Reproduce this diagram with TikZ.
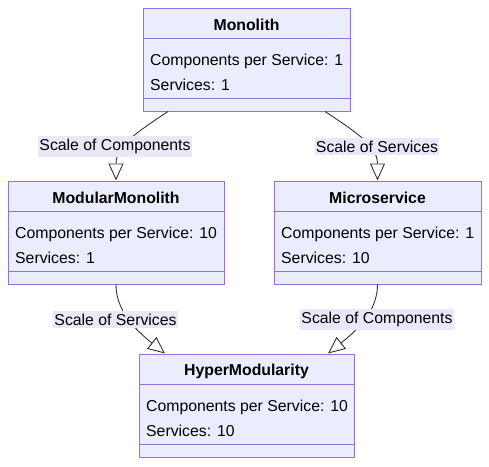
\documentclass[tikz,border=0pt]{standalone}
\usepackage{fontspec}
\setmainfont{Liberation Sans}
\usetikzlibrary{arrows.meta}
\definecolor{classfill}{HTML}{ECECFF}
\definecolor{classline}{HTML}{9370DB}
\definecolor{edgeline}{HTML}{333333}
\definecolor{labelfill}{HTML}{E8E8F8}
\begin{document}
\begin{tikzpicture}[x=1pt, y=-1pt, font=\fontsize{15.8}{18}\selectfont]
    \tikzstyle{class box}=[draw=classline, fill=classfill, line width=1pt, minimum height=103, inner sep=0pt]
    \tikzstyle{class rule}=[draw=classline, line width=1pt]
    \tikzstyle{class title}=[font=\fontsize{15.8}{18}\selectfont\bfseries, inner sep=0pt]
    \tikzstyle{attr}=[anchor=west, inner sep=0pt]
    \tikzstyle{extends}=[draw=edgeline, line width=0.9pt, -{Triangle[length=17pt, width=15pt, fill=white]}]
    \tikzstyle{edge label}=[fill=labelfill, inner xsep=1pt, inner ysep=3pt]

    \useasboundingbox (0,0) rectangle (489,466);

    % Draw the classes: box, title, the two rules and the attributes
    \foreach \name/\x/\y/\w/\title/\comp/\serv in {mono/143/8/207/Monolith/1/1,
        modular/8/181/216/ModularMonolith/10/1, micro/274/181/207/Microservice/1/10,
        hyper/139/354/215/HyperModularity/10/10}
    {
        \node[class box, minimum width=\w] (\name) at (\x+\w/2, \y+51.5) {};
        \draw[class rule] ([yshift=-31]\name.north west) -- ([yshift=-31]\name.north east);
        \draw[class rule] ([yshift=13]\name.south west) -- ([yshift=13]\name.south east);
        \node[class title] (\name-t) at ([yshift=-17.5]\name.north) {\title};
        \node[attr] (\name-c) at ([xshift=7.5, yshift=-54]\name.north west) {Components per Service: \comp};
        \node[attr] (\name-s) at ([xshift=7.5, yshift=-77]\name.north west) {Services: \serv};
    }

    % Connect the classes
    \draw[extends] ([xshift=-78.5]mono.south) .. controls +(-30,20) and +(0,-35) .. (modular.north);
    \draw[extends] ([xshift=78.5]mono.south) .. controls +(30,20) and +(0,-35) .. (micro.north);
    \draw[extends] (modular.south) .. controls +(0,26) and +(-30,-24) .. ([xshift=-81.5]hyper.north);
    \draw[extends] (micro.south) .. controls +(0,26) and +(30,-24) .. ([xshift=81.5]hyper.north);

    % Annotate the edges
    \node[edge label] (comp-a) at (115,146.5) {Scale of Components};
    \node[edge label] (serv-a) at (377,146.5) {Scale of Services};
    \node[edge label] (serv-b) at (115.5,319.5) {Scale of Services};
    \node[edge label] (comp-b) at (377,319.5) {Scale of Components};
\end{tikzpicture}
\end{document}
